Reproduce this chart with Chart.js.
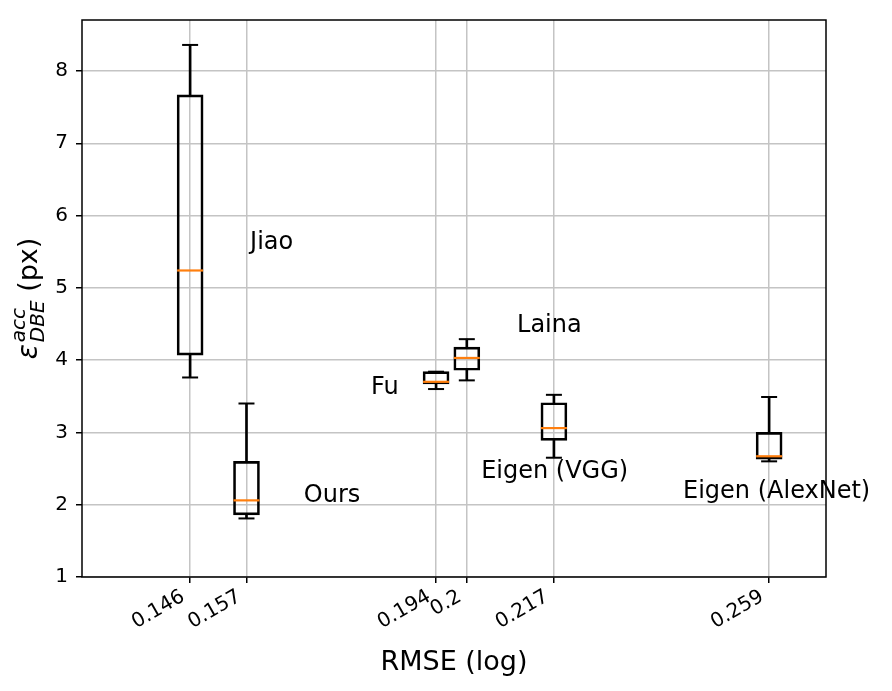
<!DOCTYPE html>
<html>
<head>
<meta charset="utf-8">
<script src="https://cdn.jsdelivr.net/npm/chart.js@4"></script>
<style>
  html, body { margin: 0; padding: 0; background: #fff; }
  #wrap { width: 892px; height: 691px; }
</style>
</head>
<body>
<div id="wrap"><canvas id="chart"></canvas></div>
<script>
// one box per method, placed at its RMSE
const methods   = ['Jiao', 'Ours', 'Fu', 'Laina', 'Eigen (VGG)', 'Eigen (AlexNet)'];
const rmse      = [0.146, 0.157, 0.194, 0.2, 0.217, 0.259];
const rmseTicks = ['0.146', '0.157', '0.194', '0.2', '0.217', '0.259'];
const whiskLo   = [3.76, 1.81, 3.60, 3.72, 2.65, 2.60];
const q1        = [4.07, 1.86, 3.67, 3.86, 2.89, 2.63];
const median    = [5.24, 2.06, 3.70, 4.03, 3.06, 2.67];
const q3        = [7.67, 2.60, 3.84, 4.18, 3.41, 3.00];
const whiskHi   = [8.36, 3.40, 3.84, 4.29, 3.52, 3.49];
const yTicks    = [1, 2, 3, 4, 5, 6, 7, 8];
// where each method name is written (data coords)
const nameX = [0.1577, 0.1682, 0.1813, 0.2098, 0.2028, 0.2422];
const nameY = [5.63, 2.12, 3.62, 4.47, 2.46, 2.18];

const FONT = '"DejaVu Sans", sans-serif';
const MEDIAN_COLOR = '#ff7f0e';

// frame, method names and the math-style y label
const extras = {
  id: 'extras',
  afterDatasetsDraw(chart) {
    const { ctx, chartArea: a, scales: { x, y } } = chart;
    ctx.save();
    ctx.strokeStyle = '#000';
    ctx.lineWidth = 1.5;
    ctx.strokeRect(a.left, a.top, a.right - a.left, a.bottom - a.top);
    ctx.fillStyle = '#000';
    ctx.font = '24px ' + FONT;
    ctx.textAlign = 'left';
    ctx.textBaseline = 'middle';
    methods.forEach((m, i) => {
      ctx.fillText(m, x.getPixelForValue(nameX[i]), y.getPixelForValue(nameY[i]));
    });
    ctx.restore();
  },
  afterDraw(chart) {
    const { ctx, chartArea: a } = chart;
    const big = 'italic 28px ' + FONT, small = 'italic 20px ' + FONT, plain = '27px ' + FONT;
    ctx.save();
    ctx.fillStyle = '#000';
    ctx.textBaseline = 'alphabetic';
    ctx.textAlign = 'left';
    ctx.font = big;   const wE = ctx.measureText('ε').width;
    ctx.font = small; const wSub = Math.max(ctx.measureText('DBE').width, ctx.measureText('acc').width);
    ctx.font = plain; const wP = ctx.measureText(' (px)').width;
    const total = wE + 2 + wSub + wP;
    ctx.translate(37, (a.top + a.bottom) / 2);
    ctx.rotate(-Math.PI / 2);
    let cx = -total / 2;
    ctx.font = big;   ctx.fillText('ε', cx, 0); cx += wE + 2;
    ctx.font = small; ctx.fillText('acc', cx, -12); ctx.fillText('DBE', cx, 7); cx += wSub;
    ctx.font = plain; ctx.fillText(' (px)', cx, 0);
    ctx.restore();
  }
};

const boxes = rmse.map((x, i) => ({ x, y: [q1[i], q3[i]] }));
const lowerW = rmse.map((x, i) => ({ x, y: [whiskLo[i], q1[i]] }));
const upperW = rmse.map((x, i) => ({ x, y: [q3[i], whiskHi[i]] }));
const caps = rmse.flatMap((x, i) => [{ x, y: whiskLo[i] }, { x, y: whiskHi[i] }]);
const meds = rmse.map((x, i) => ({ x, y: median[i] }));

new Chart(document.getElementById('chart'), {
  type: 'bar',
  data: {
    datasets: [
      { type: 'scatter', data: meds, pointStyle: 'line', radius: 13, borderColor: MEDIAN_COLOR, borderWidth: 2.2 },
      { type: 'scatter', data: caps, pointStyle: 'line', radius: 8, borderColor: '#000', borderWidth: 2 },
      { data: boxes, backgroundColor: 'rgba(0,0,0,0)', borderColor: '#000', borderWidth: 2,
        borderSkipped: false, barThickness: 26, grouped: false },
      { data: lowerW, backgroundColor: '#000', borderWidth: 0, barThickness: 2, grouped: false },
      { data: upperW, backgroundColor: '#000', borderWidth: 0, barThickness: 2, grouped: false }
    ]
  },
  options: {
    responsive: true,
    maintainAspectRatio: false,
    animation: false,
    events: [],
    layout: { padding: { top: 20, right: 66, left: 0, bottom: 0 } },
    plugins: { legend: { display: false }, tooltip: { enabled: false } },
    scales: {
      x: {
        type: 'linear',
        offset: false,
        min: 0.1249, max: 0.2701,
        afterBuildTicks: s => { s.ticks = rmse.map(v => ({ value: v })); },
        afterFit: s => { s.height = 114; },
        ticks: {
          autoSkip: false, minRotation: 30, maxRotation: 30, padding: 2, labelOffset: -7,
          color: '#000', font: { family: FONT, size: 20 },
          callback: (v, i) => rmseTicks[i]
        },
        grid: { offset: false, color: '#c4c4c4', lineWidth: 1.5, tickColor: '#000', tickLength: 6, tickWidth: 1.5 },
        border: { display: false },
        title: { display: true, text: 'RMSE (log)', color: '#000',
                 font: { family: FONT, size: 27 }, padding: { top: 0, bottom: 12 } }
      },
      y: {
        min: 1, max: 8.705,
        afterBuildTicks: s => { s.ticks = yTicks.map(v => ({ value: v })); },
        afterFit: s => { s.width = 82; },
        ticks: { padding: 8, color: '#000', font: { family: FONT, size: 20 } },
        grid: { color: '#c4c4c4', lineWidth: 1.5, tickColor: '#000', tickLength: 6, tickWidth: 1.5 },
        border: { display: false }
      }
    }
  },
  plugins: [extras]
});
</script>
</body>
</html>
